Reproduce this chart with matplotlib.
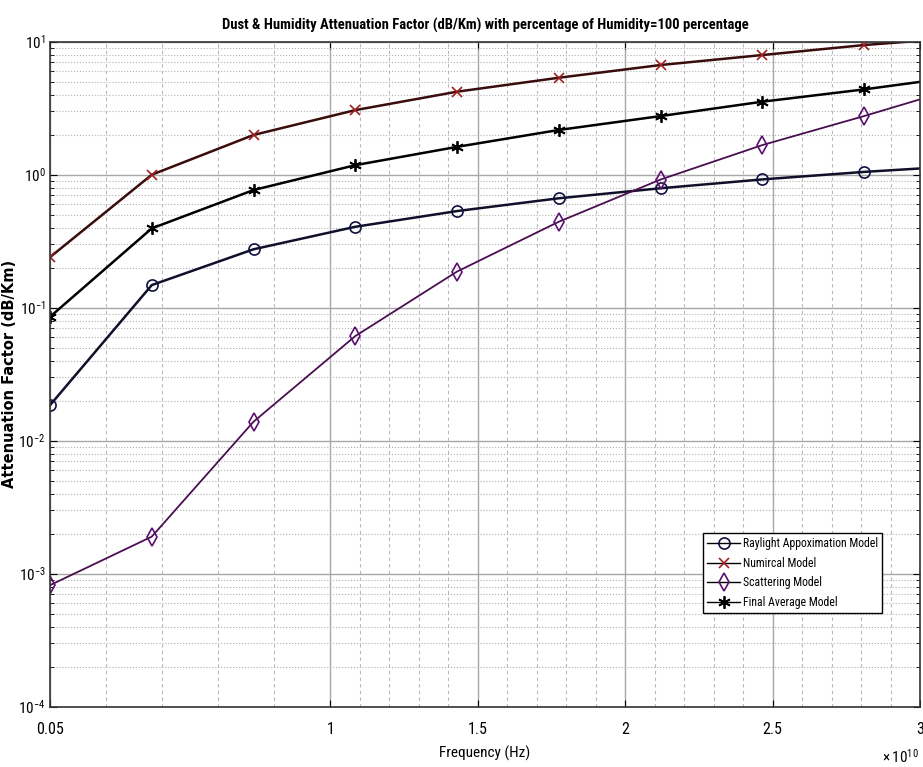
import matplotlib
matplotlib.use('Agg')
import matplotlib.pyplot as plt
from matplotlib.ticker import FixedLocator, LogLocator, NullFormatter
import numpy as np

NARROW = ['Roboto Condensed', 'Liberation Sans Narrow', 'Liberation Sans', 'DejaVu Sans']
plt.rcParams['font.family'] = NARROW
plt.rcParams['mathtext.fontset'] = 'custom'
plt.rcParams['mathtext.rm'] = 'Roboto Condensed'

# frequency in units of 1e10 Hz
freq = [0.05, 0.395, 0.74, 1.085, 1.43, 1.775, 2.12, 2.465, 2.81, 3.155]
rayleigh = [0.0185, 0.148, 0.275, 0.406, 0.533, 0.665, 0.791, 0.922, 1.05, 1.17]
numerical = [0.24, 1.0, 1.99, 3.06, 4.21, 5.36, 6.68, 7.94, 9.44, 10.8]
scattering = [8.2e-4, 1.9e-3, 0.0139, 0.0612, 0.187, 0.443, 0.92, 1.67, 2.76, 4.67]
average = [0.0855, 0.395, 0.767, 1.18, 1.62, 2.17, 2.76, 3.54, 4.38, 5.55]

xticks = [0.05, 1, 1.5, 2, 2.5, 3]
xminor = [0.24, 0.43, 0.62, 0.81] + [round(1 + 0.1 * i, 1) for i in range(1, 20) if i % 5 != 0]

fig = plt.figure(figsize=(9.23, 7.67), dpi=100)
ax = fig.add_axes([0.0542, 0.0786, 0.9426, 0.867])

ax.plot(freq, rayleigh, '-', color='#10102a', lw=1.8, marker='o', ms=8,
        mfc='none', mec='#101040', mew=1.2, label='Raylight Appoximation Model')
ax.plot(freq, numerical, '-', color='#3a0c0c', lw=1.8, marker='x', ms=7,
        mec='#a02020', mew=1.2, label='Numircal Model')
ax.plot(freq, scattering, '-', color='#4a0f50', lw=1.3, marker='d', ms=9,
        mfc='none', mec='#5a1070', mew=1.2, label='Scattering Model')
ax.plot(freq, average, '-', color='black', lw=1.8, marker=(6, 2, 0), ms=9,
        mew=1.3, label='Final Average Model')

ax.set_yscale('log')
ax.set_xlim(0.05, 3)
ax.set_ylim(1e-4, 10)

ax.xaxis.set_major_locator(FixedLocator(xticks))
ax.set_xticklabels(['0.05', '1', '1.5', '2', '2.5', '3'])
ax.xaxis.set_minor_locator(FixedLocator(xminor))
ax.yaxis.set_minor_locator(LogLocator(base=10, subs=np.arange(2, 10), numticks=20))
ax.yaxis.set_minor_formatter(NullFormatter())
ax.set_yticks([1e-4, 1e-3, 1e-2, 1e-1, 1, 10])
ax.set_yticklabels([r'$\mathregular{10^{-4}}$', r'$\mathregular{10^{-3}}$', r'$\mathregular{10^{-2}}$',
                    r'$\mathregular{10^{-1}}$', r'$\mathregular{10^{0}}$', r'$\mathregular{10^{1}}$'])

ax.grid(which='major', color='#a8a8a8', lw=1.0, ls='-')
ax.yaxis.grid(which='minor', color='#b0b0b0', lw=0.8, ls=':')
ax.xaxis.grid(which='minor', color='#b8b8b8', lw=0.8, ls=(0, (3, 3)))
ax.set_axisbelow(True)

ax.tick_params(which='both', direction='in', top=True, right=True)
ax.tick_params(axis='x', which='major', length=5, pad=11, labelsize=11.5)
ax.tick_params(axis='y', which='major', length=5, pad=3, labelsize=11)
ax.tick_params(which='minor', length=3)
ax.tick_params(axis='x', which='minor', length=0)
for s in ax.spines.values():
    s.set_linewidth(1.2)
    s.set_color('#333333')

ax.set_title('Dust & Humidity Attenuation Factor (dB/Km) with percentage of Humidity=100 percentage',
             fontsize=10.5, fontweight='bold', pad=9)
ax.set_xlabel('Frequency (Hz)', fontsize=11, labelpad=6)
ax.set_ylabel('Attenuation Factor (dB/Km)', fontsize=10.5, fontweight='bold',
              family=['DejaVu Sans'])
ax.yaxis.set_label_coords(-0.038, 0.5)
ax.text(0.999, -0.062, r'$\mathregular{\times\,10^{10}}$', transform=ax.transAxes,
        ha='right', va='top', fontsize=11)

leg = ax.legend(loc='lower right', bbox_to_anchor=(0.956, 0.141), fontsize=8.5,
                fancybox=False, edgecolor='black', framealpha=1, borderpad=0.35,
                borderaxespad=0, handlelength=2.8, handletextpad=0.2, labelspacing=0.55)
leg.get_frame().set_linewidth(1.0)
for h in leg.get_lines():
    h.set_color('black')
    h.set_linewidth(1.0)

fig.savefig('out.png', dpi=100)
